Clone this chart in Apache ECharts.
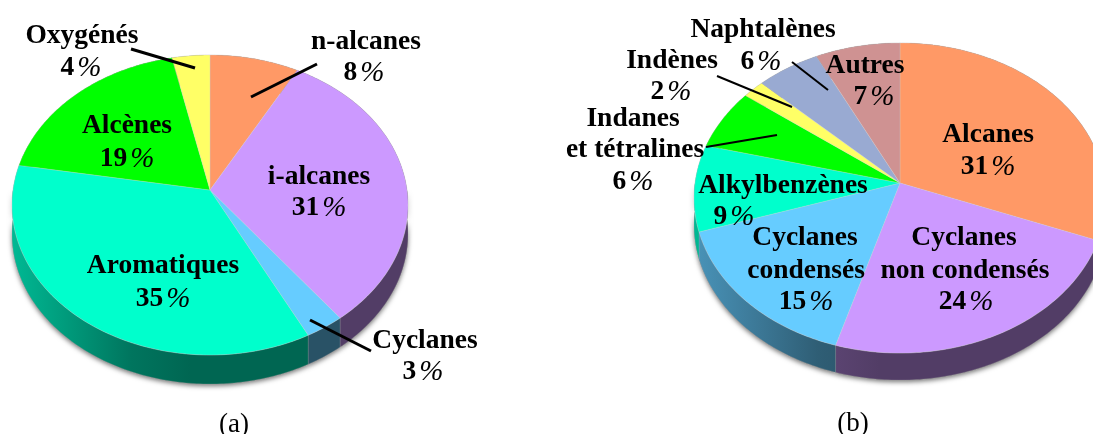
<!DOCTYPE html>
<html>
<head>
<meta charset="utf-8">
<style>html,body{margin:0;padding:0;background:#fff}#chart{width:1093px;height:434px}</style>
<script src="https://cdn.jsdelivr.net/npm/echarts@6/dist/echarts.min.js"></script>
</head>
<body>
<div id="chart"></div>
<script>
// (a) sweeps are measured on the picture, printed = what the labels say
var namesA = ['n-alcanes', 'i-alcanes', 'Cyclanes', 'Aromatiques', 'Alcènes', 'Oxygénés'];
var valuesA = [8, 31.6, 2.9, 35.2, 18.9, 3.4];
var printedA = [8, 31, 3, 35, 19, 4];
var colorsA = ['#FF9966', '#CC99FF', '#66CCFF', '#00FFCC', '#00FF00', '#FFFF66'];

// (b)
var namesB = ['Alcanes', 'Cyclanes\nnon condensés', 'Cyclanes\ncondensés', 'Alkylbenzènes', 'Indanes\net tétralines', 'Indènes', 'Naphtalènes', 'Autres'];
var valuesB = [30.9, 23.7, 15.4, 9, 6.3, 1.9, 5.5, 7.3];
var printedB = [31, 24, 15, 9, 6, 2, 6, 7];
var colorsB = ['#FF9966', '#CC99FF', '#66CCFF', '#00FFCC', '#00FF00', '#FFFF66', '#99AAD2', '#CF9292'];

// pie geometry: apex, radii, perspective, wall height
var pieA = {cx: 210, cy: 190, rx: 197, ry: 148.5, k: 0.1, depth: 29};
var pieB = {cx: 900, cy: 183, rx: 205, ry: 153.6, k: 0.097, depth: 27};

// label layout, same order as names: one [x, y] per text line, the last is the percentage
var labelsA = [
    [[366, 40], [364, 71]],
    [[319, 175], [319, 206]],
    [[425, 339], [423, 370]],
    [[163, 264], [163, 297]],
    [[127, 124], [127, 157]],
    [[82, 34], [81, 66]]
];
var labelsB = [
    [[988, 133], [988, 165]],
    [[964, 236], [965, 269], [966, 300]],
    [[805, 236], [806, 269], [806, 300]],
    [[783, 184], [734, 215]],
    [[633, 117], [635, 148], [633, 180]],
    [[672, 59], [671, 90]],
    [[763, 28], [761, 60]],
    [[865, 64], [874, 95]]
];
var leadersA = [[131, 49, 195, 68], [317, 64, 251, 97], [310, 320, 371, 351]];
var leadersB = [[792, 62, 828, 90], [717, 76, 792, 107], [706, 147, 777, 135]];

var FONT = '"Liberation Serif", "Times New Roman", serif';

// circle -> tilted ellipse, the far side is squeezed
function project(pie, pct, drop){
    var a = pct / 100 * 2 * Math.PI;
    var u = Math.sin(a), v = Math.cos(a);
    var w = 1 + pie.k * v;
    return [pie.cx + pie.rx * u / w, pie.cy - pie.ry * v / w + (drop || 0)];
}

function arc(pie, from, to, drop){
    var pts = [];
    var n = Math.max(2, Math.ceil((to - from) * 4));
    for(var i = 0; i <= n; i++){
        pts.push(project(pie, from + (to - from) * i / n, drop));
    }
    return pts;
}

function shade(hex, f){
    var c = echarts.color.parse(hex);
    return 'rgb(' + Math.round(c[0] * f) + ',' + Math.round(c[1] * f) + ',' + Math.round(c[2] * f) + ')';
}

function wallFill(pie, hex){
    return new echarts.graphic.LinearGradient(pie.cx - pie.rx, 0, pie.cx + pie.rx, 0, [
        {offset: 0, color: shade(hex, 0.72)},
        {offset: 0.12, color: shade(hex, 0.62)},
        {offset: 0.3, color: shade(hex, 0.46)},
        {offset: 0.45, color: shade(hex, 0.4)},
        {offset: 1, color: shade(hex, 0.4)}
    ], true);
}

function pieSeries(pie, values, colors, layer){
    return {
        type: 'custom',
        coordinateSystem: 'none',
        silent: true,
        animation: false,
        z: {shadow: 1, wall: 2, top: 3}[layer],
        data: values,
        renderItem: function(params, api){
            var i = params.dataIndex;
            var from = 0;
            for(var j = 0; j < i; j++) from += values[j];
            var to = from + api.value(0);
            if(layer === 'top'){
                return {
                    type: 'polygon',
                    shape: {points: [[pie.cx, pie.cy]].concat(arc(pie, from, to, 0))},
                    style: {fill: colors[i], stroke: 'rgba(205,205,205,0.5)', lineWidth: 0.6}
                };
            }
            if(layer === 'shadow'){
                // front half only, no halo round the back of the pie
                var f = Math.max(from, 25), t = Math.min(to, 75);
                if(t <= f) return null;
                return {
                    type: 'polygon',
                    shape: {points: arc(pie, f, t, 0).concat(arc(pie, f, t, pie.depth).reverse())},
                    style: {fill: '#777', shadowBlur: 5, shadowColor: 'rgba(0,0,0,0.55)', shadowOffsetY: 2}
                };
            }
            return {
                type: 'polygon',
                shape: {points: arc(pie, from, to, 0).concat(arc(pie, from, to, pie.depth).reverse())},
                style: {fill: wallFill(pie, colors[i]), stroke: 'rgba(190,190,190,0.35)', lineWidth: 0.6}
            };
        }
    };
}

function textItem(x, y, txt, pct){
    var style = {
        x: x, y: y + 2, align: 'center', verticalAlign: 'middle', fill: '#000',
        font: 'bold 27.5px ' + FONT
    };
    if(pct){
        style.text = '{n|' + txt + '}{p|%}';
        style.rich = {
            n: {font: 'bold 27.5px ' + FONT, fill: '#000', padding: [0, 3, 0, 0]},
            p: {font: 'italic 29px ' + FONT, fill: '#000'}
        };
    } else {
        style.text = txt;
    }
    return {type: 'text', z: 20, silent: true, style: style};
}

function labelItems(names, printed, layout){
    var out = [];
    names.forEach(function(name, i){
        var lines = name.split('\n');
        lines.forEach(function(line, j){
            out.push(textItem(layout[i][j][0], layout[i][j][1], line, false));
        });
        var p = layout[i][lines.length];
        out.push(textItem(p[0], p[1], String(printed[i]), true));
    });
    return out;
}

function leaderItems(list, width){
    return list.map(function(l){
        return {
            type: 'line', z: 15, silent: true,
            shape: {x1: l[0], y1: l[1], x2: l[2], y2: l[3]},
            style: {stroke: '#000', lineWidth: width}
        };
    });
}

function caption(x, y, txt){
    return {
        type: 'text', z: 20, silent: true,
        style: {x: x, y: y + 2, text: txt, align: 'center', verticalAlign: 'middle', fill: '#000', font: '27px ' + FONT}
    };
}

var chart = echarts.init(document.getElementById('chart'), null, {renderer: 'canvas'});
chart.setOption({
    backgroundColor: '#fff',
    animation: false,
    series: [
        pieSeries(pieA, valuesA, colorsA, 'shadow'),
        pieSeries(pieA, valuesA, colorsA, 'wall'),
        pieSeries(pieA, valuesA, colorsA, 'top'),
        pieSeries(pieB, valuesB, colorsB, 'shadow'),
        pieSeries(pieB, valuesB, colorsB, 'wall'),
        pieSeries(pieB, valuesB, colorsB, 'top')
    ],
    graphic: {
        elements: leaderItems(leadersA, 3)
            .concat(leaderItems(leadersB, 2))
            .concat(labelItems(namesA, printedA, labelsA))
            .concat(labelItems(namesB, printedB, labelsB))
            .concat([caption(234, 423, '(a)'), caption(853, 422, '(b)')])
    }
});
</script>
</body>
</html>
